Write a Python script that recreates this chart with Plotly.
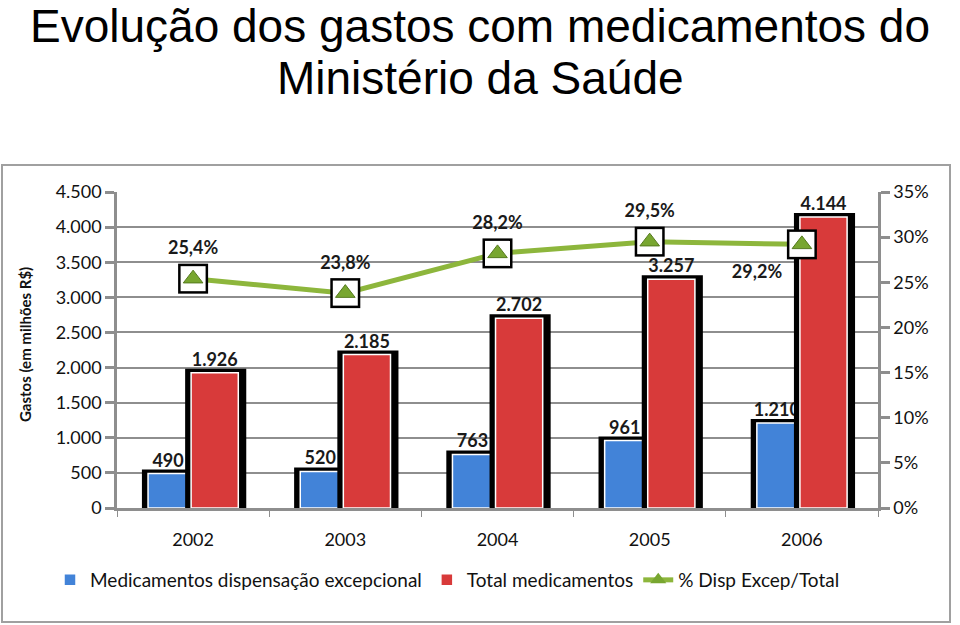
import plotly.graph_objects as go

YEARS = ["2002", "2003", "2004", "2005", "2006"]
DISP_EXCEP = [490, 520, 763, 961, 1210]
TOTAL_MED = [1926, 2185, 2702, 3257, 4144]
PCT_EXCEP = [25.4, 23.8, 28.2, 29.5, 29.2]
PCT_TEXT_POS = ["top center", "top center", "top center", "top center", "bottom left"]
LEFT_TICKS = list(range(0, 4501, 500))
RIGHT_TICKS = list(range(0, 36, 5))
TITLE_LINES = ["Evolução dos gastos com medicamentos do", "Ministério da Saúde"]

BLUE = "#4283D8"
RED = "#D83A3A"
GREEN = "#8DB63C"
GRID = "#8E8E8E"
LABEL_FONT = dict(family="Lato, sans-serif", size=18, color="#1A1A1A", weight="bold")

# plot area in pixels: x 117..878, y 192..508
PLOT_L, PLOT_R, PLOT_T, PLOT_B = 117, 878, 192, 508


def px_x(x):
    return (x - PLOT_L) / (PLOT_R - PLOT_L)


def px_y(y):
    return (PLOT_B - y) / (PLOT_B - PLOT_T)


fig = go.Figure()

# black "shadow" behind each bar, then the coloured bar on top
fig.add_trace(go.Bar(
    x=YEARS, y=DISP_EXCEP, width=0.263, offset=-0.31,
    marker=dict(color="black", line=dict(color="black", width=8)),
    showlegend=False, hoverinfo="skip",
))
fig.add_trace(go.Bar(
    x=YEARS, y=DISP_EXCEP, width=0.263, offset=-0.296,
    name="Medicamentos dispensação excepcional",
    marker=dict(color=BLUE, line=dict(color="white", width=1.5)),
    texttemplate="%{y:,.0f}", textposition="outside", textfont=LABEL_FONT,
    constraintext="none", cliponaxis=False,
))
fig.add_trace(go.Bar(
    x=YEARS, y=TOTAL_MED, width=0.349, offset=-0.026,
    marker=dict(color="black", line=dict(color="black", width=8)),
    showlegend=False, hoverinfo="skip",
))
fig.add_trace(go.Bar(
    x=YEARS, y=TOTAL_MED, width=0.31, offset=-0.013,
    name="Total medicamentos",
    marker=dict(color=RED, line=dict(color="white", width=1.5)),
    texttemplate="%{y:,.0f}", textposition="outside", textfont=LABEL_FONT,
    constraintext="none", cliponaxis=False,
))

# percentage line (right axis)
fig.add_trace(go.Scatter(
    x=YEARS, y=PCT_EXCEP, yaxis="y2", mode="lines",
    line=dict(color=GREEN, width=5), showlegend=False, hoverinfo="skip",
))
fig.add_trace(go.Scatter(
    x=YEARS, y=PCT_EXCEP, yaxis="y2", mode="markers+text",
    marker=dict(size=30, color="rgba(0,0,0,0)"),
    text=[f"{v:.1f}%".replace(".", ",") for v in PCT_EXCEP],
    textposition=PCT_TEXT_POS, textfont=LABEL_FONT,
    showlegend=False, hoverinfo="skip", cliponaxis=False,
))
fig.add_trace(go.Scatter(
    x=YEARS, y=PCT_EXCEP, yaxis="y2", mode="markers",
    marker=dict(symbol="square", size=30, color="black"),
    showlegend=False, hoverinfo="skip", cliponaxis=False,
))
fig.add_trace(go.Scatter(
    x=YEARS, y=PCT_EXCEP, yaxis="y2", mode="markers",
    marker=dict(symbol="square", size=25, color="white"),
    showlegend=False, hoverinfo="skip", cliponaxis=False,
))
fig.add_trace(go.Scatter(
    x=YEARS, y=PCT_EXCEP, yaxis="y2", mode="markers",
    marker=dict(symbol="triangle-up", size=17, color="#78A630",
                line=dict(color="#557A1E", width=1)),
    showlegend=False, hoverinfo="skip", cliponaxis=False,
))
# legend entry for the line
fig.add_trace(go.Scatter(
    x=YEARS, y=[None] * len(YEARS), yaxis="y2", mode="lines+markers",
    name="% Disp Excep/Total",
    line=dict(color=GREEN, width=5),
    marker=dict(symbol="triangle-up", size=14, color="#78A630"),
))

title_annotations = [
    dict(text=line, xref="paper", x=px_x(480), yref="paper", y=px_y(y_mid),
         xanchor="center", yanchor="middle", showarrow=False,
         font=dict(family="Liberation Sans, Arial, sans-serif", size=46, color="black"))
    for line, y_mid in zip(TITLE_LINES, [26, 78])
]

fig.update_layout(
    width=960, height=625,
    margin=dict(l=PLOT_L, r=960 - PLOT_R, t=PLOT_T, b=625 - PLOT_B),
    paper_bgcolor="white", plot_bgcolor="white",
    barmode="overlay",
    separators=",.",
    font=dict(family="Lato, sans-serif", size=17, color="#111"),
    xaxis=dict(
        type="category", showgrid=False,
        showline=True, linecolor=GRID, linewidth=2.5,
        ticks="outside", tickson="boundaries", ticklen=6, tickcolor=GRID,
        ticklabelstandoff=14, tickfont=dict(size=18),
    ),
    yaxis=dict(
        range=[0, 4500], tickvals=LEFT_TICKS, tickformat=",.0f",
        showgrid=True, gridcolor=GRID, gridwidth=2,
        showline=True, linecolor=GRID, linewidth=2.5,
        ticks="outside", ticklen=9, tickcolor=GRID, tickwidth=2.5,
        tickfont=dict(size=18), zeroline=False,
    ),
    yaxis2=dict(
        overlaying="y", side="right", range=[0, 35], tickvals=RIGHT_TICKS,
        ticktext=[f"{v}%" for v in RIGHT_TICKS], showgrid=False, zeroline=False,
        showline=True, linecolor=GRID, linewidth=2.5,
        ticks="outside", ticklen=9, tickcolor=GRID, tickwidth=2.5,
        tickfont=dict(size=18),
    ),
    legend=dict(
        orientation="h", xref="paper", x=px_x(50), xanchor="left",
        yref="paper", y=px_y(580), yanchor="middle",
        font=dict(size=19), bgcolor="rgba(0,0,0,0)",
    ),
    annotations=title_annotations + [dict(
        text="<b>Gastos (em milhões R$)</b>", textangle=-90,
        xref="paper", x=px_x(14), yref="paper", y=px_y(345),
        showarrow=False, font=dict(size=15, color="#111"),
    )],
    shapes=[dict(
        type="rect", xref="paper", yref="paper",
        x0=px_x(2), x1=px_x(950), y0=px_y(622), y1=px_y(165),
        line=dict(color="#A0A0A0", width=2), layer="below",
    )],
)

# drop the default page margin so the figure sits at the window origin
fig.write_html(
    "out.html",
    config={"displayModeBar": False},
    post_script="document.body.style.margin='0';",
)
